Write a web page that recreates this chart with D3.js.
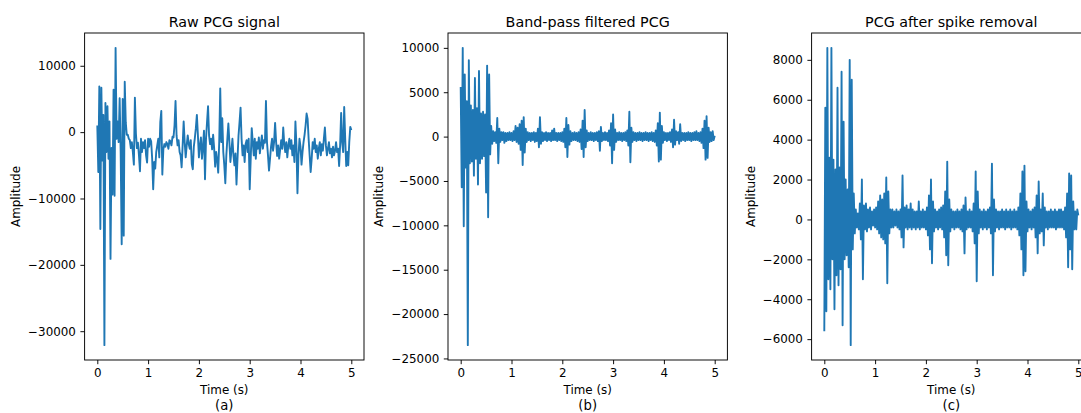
<!DOCTYPE html>
<html>
<head>
<meta charset="utf-8">
<script src="https://cdn.jsdelivr.net/npm/d3@7"></script>
<style>
  body { margin: 0; background: #fff; }
  text { font-family: "DejaVu Sans", sans-serif; fill: #000; }
</style>
</head>
<body>
<div id="chart"></div>
<script>
// sample spacing of the three recordings (seconds)
var dt = 0.02;

// (a) raw recording
var rawPCG = [
  1000,-6000,6900,-14600,6700,-4300,2600,-32100,4400,-3000,
  3900,-4000,1600,-19100,-2400,-9400,6400,-9600,12700,-1000,
  1600,-1500,5100,-3000,-16900,5000,-15600,7600,1500,-400,
  -400,-1000,-1200,-2400,-1500,-3000,-4900,5200,-200,-2400,
  -1600,-3500,-5900,-1000,-3000,-1500,-2400,-1200,-3500,-4600,
  -1000,-2200,-1000,-1400,-4000,-8600,-4500,-5500,-3000,-2000,
  -1000,-3800,1500,3200,-6400,-2600,-1800,-2200,-1500,-1800,
  -2500,-1200,-1400,-2000,-700,-800,1000,4700,-500,-2000,
  -1200,-3000,-3500,-5300,-2000,1600,-1500,-3800,-2000,-500,
  -1800,-2500,-1200,-4800,-5600,-2200,-900,600,2600,-400,
  -3800,-2000,-800,-4000,-2200,200,-7100,-1000,1500,3900,
  -500,-1800,-1000,-2600,-400,-2400,-5200,-3000,-4200,-6100,
  -1500,6600,-1500,2100,-3000,-5000,-7700,-3500,-1000,1300,
  -1500,-4500,-2800,-1000,-3500,-5000,-3200,-7900,-4000,-500,
  1500,3700,-1000,-3500,-2000,-4500,-1800,-1200,-3000,-1000,
  -8600,-4000,600,-1500,-3500,-1000,-4000,-1500,-2500,-800,
  -3200,-1800,-500,-2500,-1200,-1600,4700,-1500,-3500,-5800,
  -4000,-2200,-1000,-2800,-1500,1400,-1500,-3600,-2000,-4000,
  -2600,-1200,-2500,700,-1800,-3000,-1500,-3800,-2000,-1000,
  -2500,-1200,-3500,-2000,-4500,1600,-2000,-9200,-3500,-1000,
  -2200,-4900,-3000,-1500,-400,1000,2800,2000,-1000,-3500,
  -6000,-4000,-1500,-2500,-1000,-3000,-2000,-4000,-2500,-1500,
  -3500,-1800,-2800,-1000,700,-2000,-3500,-2500,-1500,-3200,
  -2500,-3800,-2200,-3500,-2800,-1500,-3000,-2500,-5100,-2000,
  2900,-1500,-3000,3800,-1000,-5100,-3000,-5000,-1500,800,
  300
];

// (b) band-pass filtered
var bandPCG = [
  5600,-5700,10000,-10100,7000,-3500,4000,-23500,8600,-3000,
  3500,-2800,3000,-4400,6600,-2500,3200,-5400,7400,-3000,
  2600,-2500,2800,-2200,2500,-6300,8000,-9100,7000,-2000,
  1200,-800,600,-500,500,-700,2100,-3000,900,-600,
  500,-400,500,-700,400,-500,400,-400,500,-400,
  400,-500,600,-400,1200,-600,1000,-800,1400,-1500,
  1800,-3200,2200,-1800,900,-600,500,-400,400,-500,
  400,-400,500,-600,400,-500,900,-1200,2200,-800,
  500,-500,400,-400,500,-500,400,-400,400,-500,
  700,-400,900,-400,400,-500,400,-400,400,-500,
  500,-600,900,-1200,2100,-2300,1300,-900,600,-500,
  400,-400,500,-400,400,-500,500,-600,800,-1400,
  1800,-2300,3000,-1200,700,-500,400,-400,500,-400,
  400,-500,400,-400,500,-500,600,-1600,1100,-500,
  400,-400,500,-400,400,-500,700,-1000,1500,-3000,
  2500,-1500,800,-600,400,-400,500,-400,400,-500,
  400,-400,500,-500,700,-1000,2800,-2900,1000,-600,
  500,-400,400,-500,400,-400,500,-400,400,-500,
  400,-400,500,-400,400,-500,400,-400,500,-500,
  400,-600,700,-1000,1500,-2800,2700,-2600,1200,-700,
  500,-400,400,-500,400,-400,500,-600,800,-1200,
  1900,-900,600,-400,500,-800,1400,-500,400,-400,
  400,-500,400,-400,500,-400,400,-500,400,-400,
  500,-400,600,-400,400,-500,500,-700,900,-1300,
  1800,-2600,2300,-2400,1000,-600,500,-500,600,-400,
  100
];

// (c) after spike removal
var cleanPCG = [
  -5600,5600,-4600,8600,-3000,3100,-3500,8600,-2000,3000,
  -4500,2500,-2800,6600,-3300,2600,-2500,7400,-5300,4900,
  -2000,2000,-1800,1500,-2400,8000,-6300,7000,-1500,1300,
  -700,500,-400,300,-500,800,-1000,2000,-3000,700,
  -500,800,-600,500,-400,600,-500,400,-300,500,
  -400,600,-500,900,-700,1200,-900,1000,-1000,1300,
  -1200,2100,-3200,1400,-700,500,-400,500,-400,400,
  -300,500,-400,400,-500,500,-900,2200,-1400,600,
  -400,700,-500,500,-400,800,-500,500,-400,400,
  -500,400,-400,900,-500,400,-400,500,-400,400,
  -500,600,-800,1200,-1500,2000,-2200,900,-600,500,
  -400,400,-500,500,-400,600,-500,700,-900,1400,
  -1800,2900,-2300,1000,-600,500,-400,400,-500,400,
  -400,500,-400,400,-500,500,-600,700,-1700,1100,
  -500,400,-400,500,-400,400,-600,800,-1200,2400,
  -3100,1400,-700,500,-400,400,-500,500,-400,400,
  -500,500,-400,600,-700,2800,-2800,1000,-600,500,
  -400,400,-500,400,-400,500,-400,400,-500,500,
  -400,400,-400,500,-500,400,-400,500,-400,400,
  -500,600,-800,1300,-1500,2400,-2800,2700,-2600,900,
  -600,500,-400,400,-500,500,-400,600,-900,1200,
  -1700,1900,-700,500,-600,1300,-1300,600,-400,400,
  -500,400,-400,500,-400,400,-400,500,-500,400,
  -400,500,-400,500,-400,400,-500,600,-900,1300,
  -2400,2300,-1500,2200,-2500,900,-500,400,-500,500,
  200
];

var titles = ["Raw PCG signal", "Band-pass filtered PCG", "PCG after spike removal"];
var tags = ["(a)", "(b)", "(c)"];
var xTicks = [0, 1, 2, 3, 4, 5];
var yTicksRaw = [-30000, -20000, -10000, 0, 10000];
var yTicksBand = [-25000, -20000, -15000, -10000, -5000, 0, 5000, 10000];
var yTicksClean = [-6000, -4000, -2000, 0, 2000, 4000, 6000, 8000];

var panels = [
  {data: rawPCG, title: titles[0], tag: tags[0], yTicks: yTicksRaw, left: 84.6},
  {data: bandPCG, title: titles[1], tag: tags[1], yTicks: yTicksBand, left: 448},
  {data: cleanPCG, title: titles[2], tag: tags[2], yTicks: yTicksClean, left: 811.6}
];

var W = 1081, H = 413;
var axTop = 33, axBottom = 360;
var axW = 279.4, axH = axBottom - axTop;

var svg = d3.select("#chart").append("svg")
    .attr("width", W)
    .attr("height", H);

svg.append("rect").attr("width", W).attr("height", H).attr("fill", "#fff");

panels.forEach(function (p, k) {
  var g = svg.append("g")
      .attr("transform", "translate(" + p.left + "," + axTop + ")");

  var tMax = (p.data.length - 1) * dt;
  var x = d3.scaleLinear()
      .domain([-0.05 * tMax, 1.05 * tMax])
      .range([0, axW]);

  // matplotlib style 5% margins
  var ext = d3.extent(p.data);
  var pad = (ext[1] - ext[0]) * 0.05;
  var y = d3.scaleLinear()
      .domain([ext[0] - pad, ext[1] + pad])
      .range([axH, 0]);

  g.append("clipPath").attr("id", "clip" + k)
    .append("rect").attr("width", axW).attr("height", axH);

  var line = d3.line()
      .x(function (d, i) { return x(i * dt); })
      .y(function (d) { return y(d); });

  g.append("path")
      .datum(p.data)
      .attr("clip-path", "url(#clip" + k + ")")
      .attr("d", line)
      .attr("fill", "none")
      .attr("stroke", "#1f77b4")
      .attr("stroke-width", 1.9)
      .attr("stroke-linejoin", "round");

  var xAxis = d3.axisBottom(x)
      .tickValues(xTicks)
      .tickSize(4.2)
      .tickPadding(4)
      .tickFormat(d3.format("d"));

  var gx = g.append("g")
      .attr("transform", "translate(0," + axH + ")")
      .call(xAxis);

  var yAxis = d3.axisLeft(y)
      .tickValues(p.yTicks)
      .tickSize(4.2)
      .tickPadding(4.5)
      .tickFormat(d3.format("d"));

  var gy = g.append("g").call(yAxis);

  [gx, gy].forEach(function (a) {
    a.select(".domain").remove();
    a.selectAll(".tick line").attr("stroke", "#000").attr("stroke-width", 0.95);
    a.selectAll(".tick text")
        .attr("font-family", "DejaVu Sans")
        .attr("font-size", 11.9)
        .attr("fill", "#000");
  });

  // frame
  g.append("rect")
      .attr("width", axW)
      .attr("height", axH)
      .attr("fill", "none")
      .attr("stroke", "#000")
      .attr("stroke-width", 0.95);

  g.append("text")
      .attr("x", axW / 2)
      .attr("y", -6.5)
      .attr("text-anchor", "middle")
      .attr("font-size", 14.3)
      .text(p.title);

  g.append("text")
      .attr("x", axW / 2)
      .attr("y", 394 - axTop)
      .attr("text-anchor", "middle")
      .attr("font-size", 11.9)
      .text("Time (s)");

  g.append("text")
      .attr("x", axW / 2)
      .attr("y", 410 - axTop)
      .attr("text-anchor", "middle")
      .attr("font-size", 13.2)
      .text(p.tag);

  var bb = gy.node().getBBox();
  g.append("text")
      .attr("transform", "translate(" + (bb.x - 12.3) + "," + (axH / 2) + ") rotate(-90)")
      .attr("text-anchor", "middle")
      .attr("dy", "0.35em")
      .attr("font-size", 11.9)
      .text("Amplitude");
});
</script>
</body>
</html>
